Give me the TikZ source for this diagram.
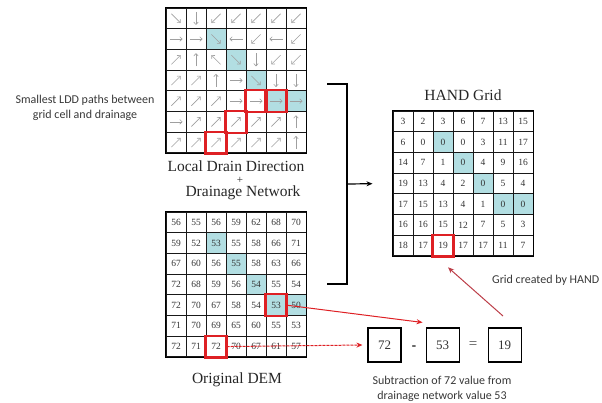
\documentclass[tikz,border=0pt]{standalone}
\usepackage{fontspec}
\setmainfont{Liberation Serif}
\newfontfamily\labelfont{Carlito}
\usepackage{tikz}
\usetikzlibrary{positioning, arrows.meta, backgrounds}

\definecolor{drainblue}{RGB}{178,222,226}
\definecolor{pathred}{RGB}{222,32,36}
\definecolor{handred}{RGB}{188,62,72}

\begin{document}
\begin{tikzpicture}[
    x=1pt, y=1pt,
    >={Stealth[length=6pt, width=5pt]},
    cell/.style={draw=black!90, line width=1pt, minimum width=20pt, minimum height=20.7pt, inner sep=0pt, text=black!80, font=\fontsize{9.5}{10}\selectfont},
    border/.style={line width=1.3pt},
    redbox/.style={draw=pathred, line width=2.2pt},
    dir/.style={-{To[length=3pt, width=5pt]}, gray!75, line width=0.6pt},
    title/.style={font=\fontsize{15.5}{16}\selectfont, inner sep=0pt, text=black!85},
    note/.style={font=\labelfont\fontsize{12}{15}\selectfont, align=center, text=black!78, inner sep=0pt},
    eqbox/.style={draw, line width=1.1pt, minimum width=33pt, minimum height=34pt, text=black!80, font=\fontsize{13}{13}\selectfont},
    arr/.style={->, line width=1.2pt},
    redarr/.style={->, pathred, line width=1pt},
    handarr/.style={->, handred, line width=1pt},
]
\useasboundingbox (0,0) rectangle (602,-402);

% Local drain direction (angle of each arrow)
\foreach \row [count=\r] in {{315,270,225,225,225,225,225},{0,0,315,180,225,180,225},
    {45,90,135,315,270,225,225},{45,45,90,0,315,270,270},{45,45,45,0,0,0,0},
    {0,45,45,45,45,45,90},{45,45,45,45,45,45,90}}{
  \foreach \a [count=\c] in \row {
    \node[cell] (ldd-\r-\c) at ({166+(\c-0.5)*20},{-8-(\r-0.5)*20.7}) {};
    \draw[dir] ([shift={(\a+180:6.5)}]ldd-\r-\c.center) -- ++(\a:13);
  }
}

% Original DEM
\foreach \row [count=\r] in {{56,55,56,59,62,68,70},{59,52,53,55,58,66,71},
    {67,60,56,55,58,63,66},{72,68,59,56,54,55,54},{72,70,67,58,54,53,50},
    {71,70,69,65,60,55,53},{72,71,72,70,67,61,57}}{
  \foreach \v [count=\c] in \row
    \node[cell] (dem-\r-\c) at ({166+(\c-0.5)*20},{-212-(\r-0.5)*20.7}) {\v};
}

% HAND grid
\foreach \row [count=\r] in {{3,2,3,6,7,13,15},{6,0,0,0,3,11,17},
    {14,7,1,0,4,9,16},{19,13,4,2,0,5,4},{17,15,13,4,1,0,0},
    {16,16,15,12,7,5,3},{18,17,19,17,17,11,7}}{
  \foreach \v [count=\c] in \row
    \node[cell] (hand-\r-\c) at ({393+(\c-0.5)*20},{-111-(\r-0.5)*20.7}) {\v};
}

% drainage network cells
\begin{scope}[on background layer]
  \foreach \rc in {2-3,3-4,4-5,5-6,5-7}{
    \fill[drainblue] (ldd-\rc.south west) rectangle (ldd-\rc.north east);
    \fill[drainblue] (dem-\rc.south west) rectangle (dem-\rc.north east);
    \fill[drainblue] (hand-\rc.south west) rectangle (hand-\rc.north east);
  }
\end{scope}

% outer borders
\foreach \g in {ldd,dem,hand}
  \draw[border] (\g-7-1.south west) rectangle (\g-1-7.north east);

% flow path
\foreach \rc in {5-5,5-6,6-4,7-3}
  \draw[redbox] (ldd-\rc.south west) rectangle (ldd-\rc.north east);
\foreach \rc in {5-6,7-3}
  \draw[redbox] (dem-\rc.south west) rectangle (dem-\rc.north east);
\draw[redbox] (hand-7-3.south west) rectangle (hand-7-3.north east);

% Titles
\node[title, align=center, font=\fontsize{15.5}{11}\selectfont] (lddtitle) at (236,-180)
  {\lineskiplimit=-30pt\relax Local Drain Direction\\[1pt]\hspace*{8pt}{\fontsize{11}{11}\selectfont +}\\[2pt]\hspace*{14pt}Drainage Network};
\node[title] (demtitle) at (237,-380) {Original DEM};
\node[title] (handtitle) at (463,-95) {HAND Grid};

% Notes
\node[note] (pathnote) at (85,-108) {Smallest LDD paths between\\grid cell and drainage};
\node[note, anchor=west] (gridnote) at (492,-280) {Grid created by HAND};
\node[note] (subnote) at (442,-389) {Subtraction of 72 value from\\drainage network value 53};

% Bracket into HAND grid
\coordinate (brtop) at (327,-84);
\coordinate (brbot) at (327,-284);
\coordinate (brmid) at (347,-184);
\draw[border] (brtop) -- ++(20,0) |- (brbot);
\draw[arr, shorten >=20pt] (brmid) -- (hand-4-1.west);

% Subtraction
\node[eqbox] (box72) at (384.5,-345) {72};
\node[eqbox, right=24pt of box72] (box53) {53};
\node[eqbox, right=28pt of box53] (box19) {19};
\node[inner sep=0pt, font=\labelfont\bfseries\fontsize{14}{14}\selectfont, text=black!80] (minus) at (414,-348) {-};
\node[inner sep=0pt, font=\fontsize{15}{15}\selectfont, text=black!70] (equals) at (473,-345) {=};

% Arrows
\draw[redarr] (dem-5-6.east) -- ([shift={(-3,5)}]box53.north west);
\draw[redarr, dash pattern=on 3pt off 1pt] (dem-7-3.east) -- ([xshift=-5pt]box72.west);
\coordinate (notetail) at (503,-316);
\draw[handarr] (notetail) -- ([shift={(5,-11)}]hand-7-3.south);

\end{tikzpicture}
\end{document}
